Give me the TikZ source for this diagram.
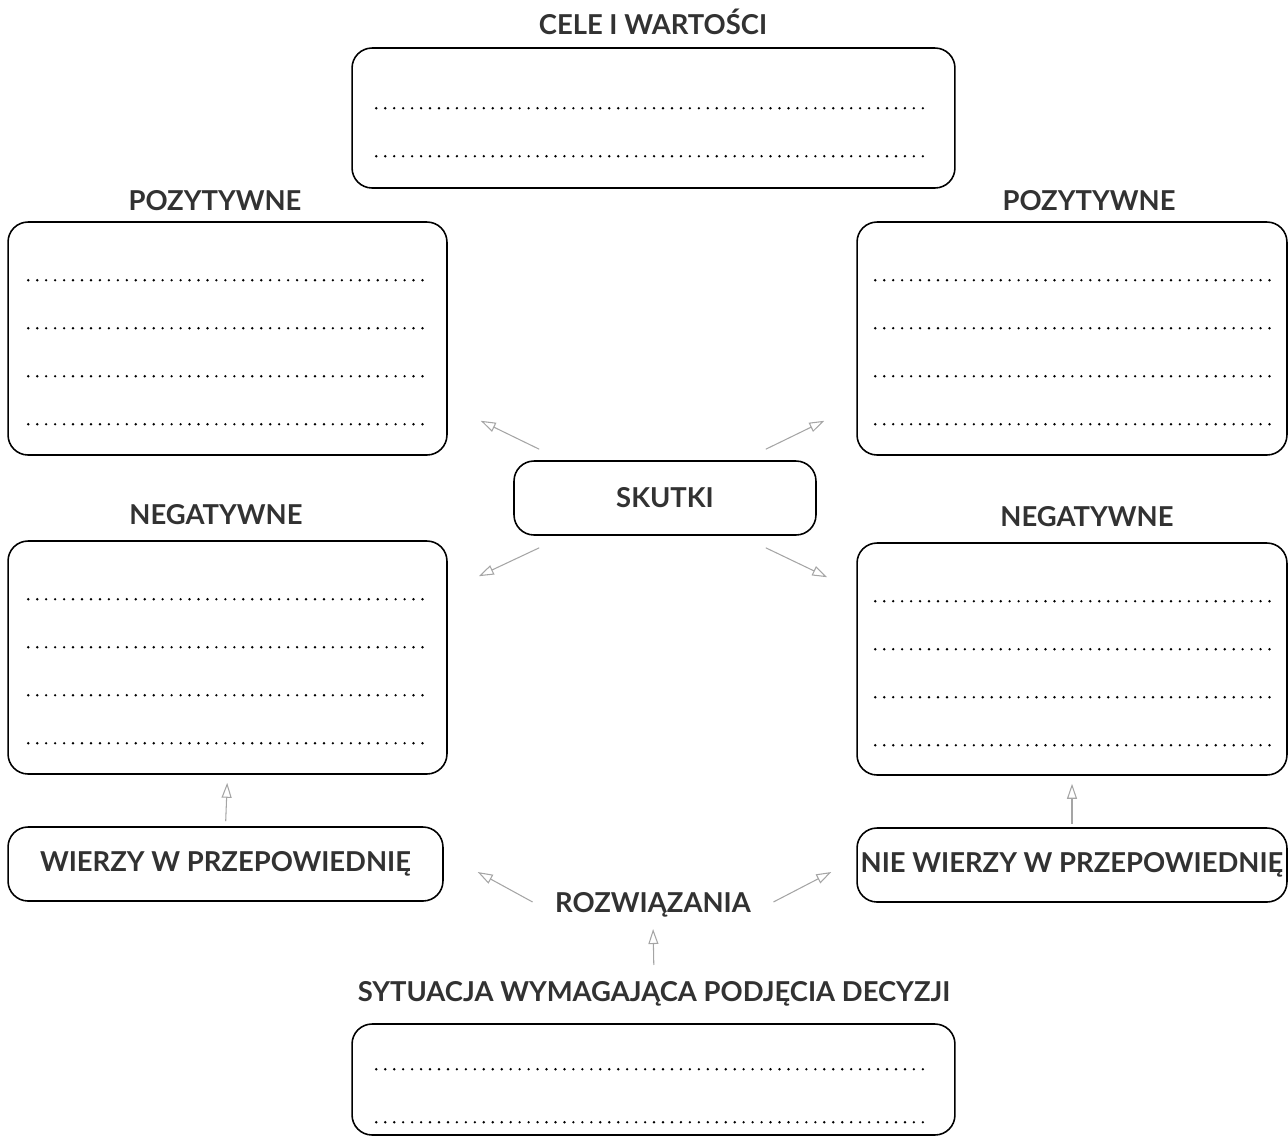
\documentclass[tikz,border=0pt]{standalone}
\usepackage{fontspec}
\setmainfont{Lato}
\usetikzlibrary{positioning, arrows.meta}
\tikzset{every picture/.style={line width=0.9pt}}
\definecolor{arr-grey}{RGB}{165,165,165}
\definecolor{txt-grey}{RGB}{50,50,50}

\begin{document}
\begin{tikzpicture}
    [x=0.02cm, y=-0.02cm,
    box/.style = {rectangle, draw, rounded corners=0.4cm, inner sep=0pt},
    lbl/.style = {font=\bfseries\fontsize{15.6}{18}\selectfont, text=txt-grey},
    dots/.style = {line width=1.5pt, line cap=round, dash pattern=on 0pt off 5.1pt},
    arr/.style = {draw=arr-grey, line width=0.6pt,
            -{Triangle[open, length=0.3cm, width=0.2cm]}},
    ]

\useasboundingbox (0,0) rectangle (1288,1137);

% titles
\node[lbl] (celeT) at (653, 22) {CELE I WARTOŚCI};
\node[lbl] (pozLT) at (215, 201) {POZYTYWNE};
\node[lbl] (pozRT) at (1089, 201) {POZYTYWNE};
\node[lbl] (negLT) at (216, 515) {NEGATYWNE};
\node[lbl] (negRT) at (1087, 517) {NEGATYWNE};
\node[lbl] (rozw) at (653, 905) {ROZWIĄZANIA};
\node[lbl] (sytT) at (654, 994) {SYTUACJA WYMAGAJĄCA PODJĘCIA DECYZJI};

% boxes to fill in
\node[box, minimum width=12.06cm, minimum height=2.8cm] (cele) at (653.5, 118) {};
\node[box, minimum width=8.78cm, minimum height=4.66cm] (pozL) at (227.5, 338.5) {};
\node[box, minimum width=8.6cm, minimum height=4.66cm] (pozR) at (1072, 338.5) {};
\node[box, minimum width=8.78cm, minimum height=4.66cm] (negL) at (227.5, 657.5) {};
\node[box, minimum width=8.6cm, minimum height=4.64cm] (negR) at (1072, 659) {};
\node[box, minimum width=12.06cm, minimum height=2.22cm] (syt) at (653.5, 1079.5) {};

% labelled boxes
\node[box, lbl, minimum width=6.04cm, minimum height=1.48cm] (skutki) at (665, 498) {SKUTKI};
\node[box, lbl, minimum width=8.7cm, minimum height=1.48cm] (wierzy) at (225.5, 864) {WIERZY W PRZEPOWIEDNIĘ};
\node[box, lbl, minimum width=8.6cm, minimum height=1.48cm] (nie) at (1072, 865) {NIE WIERZY W PRZEPOWIEDNIĘ};

% dotted lines
\foreach \y in {61, 109} {
    \draw[dots] ([shift={(25,\y)}]cele.north west) -- ([shift={(-28,\y)}]cele.north east);
}
\foreach \y in {46, 99} {
    \draw[dots] ([shift={(25,\y)}]syt.north west) -- ([shift={(-28,\y)}]syt.north east);
}
\foreach \y in {59, 107, 155, 203} {
    \draw[dots] ([shift={(21,\y)}]pozL.north west) -- ([shift={(-22,\y)}]pozL.north east);
    \draw[dots] ([shift={(21,\y)}]negL.north west) -- ([shift={(-22,\y)}]negL.north east);
    \draw[dots] ([shift={(19,\y)}]pozR.north west) -- ([shift={(-12,\y)}]pozR.north east);
    \draw[dots] ([shift={(19,\y)}]negR.north west) -- ([shift={(-12,\y)}]negR.north east);
}

% arrows
\draw[arr] ([shift={(26,-11)}]skutki.north west) -- ([shift={(33,-35)}]pozL.south east);
\draw[arr] ([shift={(-51,-11)}]skutki.north east) -- ([shift={(-32,-35)}]pozR.south west);
\draw[arr] ([shift={(26,12)}]skutki.south west) -- ([shift={(31,36)}]negL.north east);
\draw[arr] ([shift={(-51,12)}]skutki.south east) -- ([shift={(-29,35)}]negR.north west);
\draw[arr, shorten <=0.1cm, shorten >=0.16cm] (wierzy.north) -- (negL.south);
\draw[arr, shorten <=0.06cm, shorten >=0.16cm] (nie.north) -- (negR.south);
\draw[arr] ([shift={(-16,-3)}]rozw.west) -- ([shift={(34,8)}]wierzy.east);
\draw[arr] ([shift={(16,-3)}]rozw.east) -- ([shift={(-25,7)}]nie.west);
\draw[arr, shorten <=0.2cm, shorten >=0.1cm] (sytT.north) -- (rozw.south);

\end{tikzpicture}
\end{document}
